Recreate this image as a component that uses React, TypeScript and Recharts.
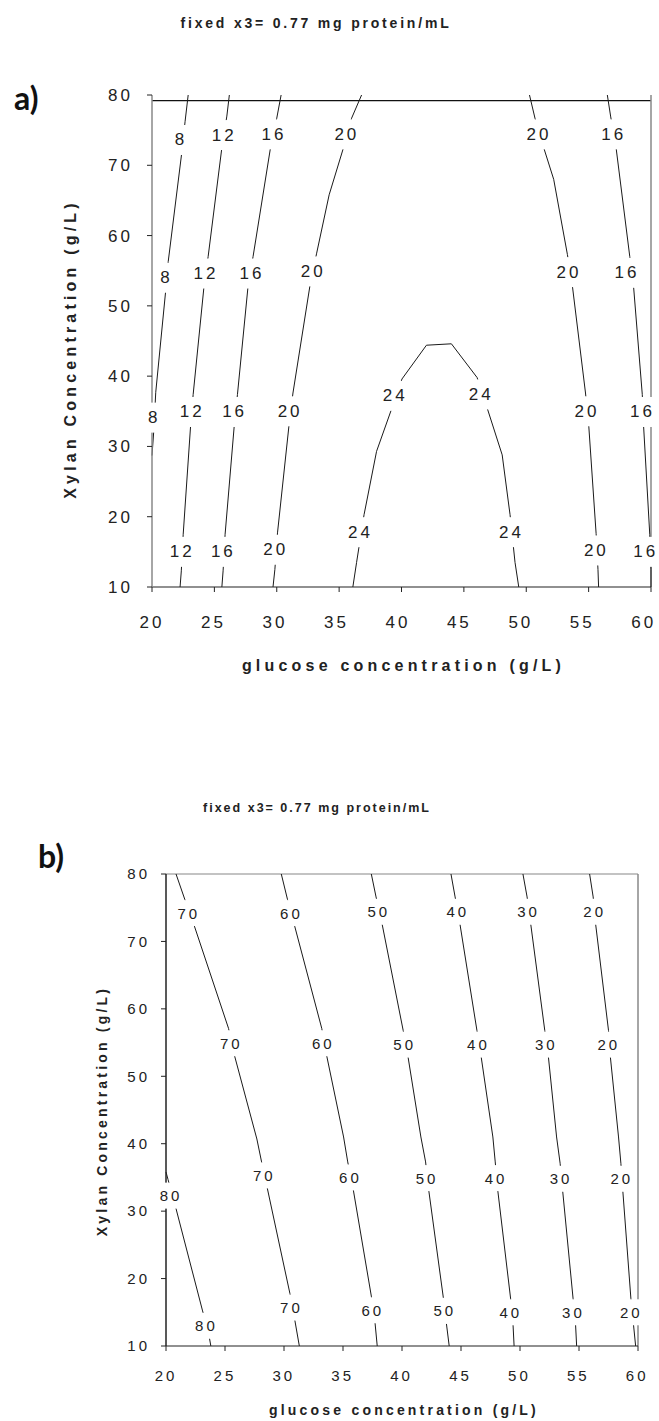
import React from 'react';
import { ComposedChart, Line, Scatter, XAxis, YAxis, ReferenceLine } from 'recharts';

type Pt = [number, number];

const xTicks = [20, 25, 30, 35, 40, 45, 50, 55, 60];
const yTicks = [10, 20, 30, 40, 50, 60, 70, 80];

// panel a) contour lines, [glucose g/L, xylan g/L]
const a8: Pt[] = [[22.9, 80], [22.65, 76.2], [22.4, 72], [21.3, 56.3], [21.1, 52.2], [20.3, 37.7], [20.15, 32.4], [20.0, 28.7]];
const a12: Pt[] = [[26.2, 80], [26.0, 77], [25.6, 72.5], [24.5, 57], [24.17, 52.8], [23.3, 37.4], [23.1, 33.1], [22.5, 17.5], [22.35, 12.3], [22.25, 10]];
const a16: Pt[] = [[30.35, 80], [30.0, 76.7], [29.5, 72.5], [28.1, 57], [27.7, 52.8], [26.85, 37.4], [26.6, 33.1], [25.86, 17.5], [25.7, 12.3], [25.6, 10]];
const a20L: Pt[] = [[36.8, 80], [36.0, 76.7], [35.35, 72.5], [34.2, 65.8], [33.2, 57.5], [32.7, 53.3], [31.3, 37.6], [31.0, 33.3], [30.06, 17.7], [29.85, 12.5], [29.7, 10]];
const a24: Pt[] = [[36.1, 10], [36.4, 13.5], [37.0, 20.3], [38.0, 29.3], [39.2, 35.3], [40.04, 39.6], [42.0, 44.4], [44.0, 44.6], [46.06, 39.8], [46.86, 35.5], [48.07, 28.8], [48.7, 20.3], [49.1, 13.5], [49.4, 10]];
const a20R: Pt[] = [[50.26, 80], [50.7, 76.7], [51.4, 72.5], [52.2, 68], [53.3, 57.3], [53.7, 52.8], [54.75, 37.6], [55.0, 33.2], [55.6, 17.6], [55.75, 12.5], [55.8, 10]];
const a16R: Pt[] = [[56.5, 80], [56.76, 77], [57.2, 72.5], [58.3, 57], [58.6, 52.8], [59.3, 37.4], [59.4, 33.1], [59.9, 17.5], [60, 12.5], [60, 10]];

const aLevels = ['8', '12', '16', '20', '24', '20', '16'];
const a8Lab: Pt[] = [[22.2, 73.6], [21.04, 54], [20.05, 34.1]];
const a12Lab: Pt[] = [[25.67, 74.3], [24.2, 54.6], [23.1, 34.9], [22.3, 15]];
const a16Lab: Pt[] = [[29.65, 74.4], [27.9, 54.6], [26.5, 34.9], [25.6, 15]];
const a20LLab: Pt[] = [[35.5, 74.4], [32.8, 54.9], [30.95, 35], [29.8, 15.3]];
const a24Lab: Pt[] = [[39.37, 37.2], [36.6, 17.8], [46.27, 37.4], [48.7, 17.8]];
const a20RLab: Pt[] = [[50.9, 74.4], [53.3, 54.8], [54.75, 35], [55.5, 15.2]];
const a16RLab: Pt[] = [[56.9, 74.4], [57.96, 54.7], [59.2, 34.9], [59.45, 15]];

// panel b)
const b80: Pt[] = [[20, 35.8], [20.17, 34.7], [20.8, 30.7], [23.1, 15.2], [23.6, 12], [23.8, 10]];
const b70: Pt[] = [[20.85, 80], [21.6, 76.2], [22.4, 72.3], [25.3, 57.1], [25.8, 53.1], [27.7, 40.7], [28.1, 37.3], [28.56, 33.6], [30.5, 17.8], [30.9, 14], [31.3, 10]];
const b60: Pt[] = [[29.77, 80], [30.3, 76.2], [30.9, 72.3], [33.2, 57.1], [33.6, 53.2], [35.05, 41], [35.4, 37.3], [35.85, 33.4], [37.4, 17.4], [37.7, 13.7], [37.9, 10]];
const b50: Pt[] = [[37.4, 80], [37.8, 76.6], [38.3, 72.7], [40.1, 56.8], [40.5, 53], [41.6, 41], [42.0, 37.3], [42.25, 33.3], [43.5, 17.2], [43.75, 13.5], [44.0, 10]];
const b40: Pt[] = [[44.15, 80], [44.5, 76.6], [44.9, 72.7], [46.35, 56.8], [46.7, 53], [47.7, 41], [47.9, 37.3], [48.1, 33.3], [49.2, 17.1], [49.4, 13.5], [49.5, 10]];
const b30: Pt[] = [[50.25, 80], [50.6, 76.6], [50.9, 72.7], [52.1, 56.8], [52.4, 53], [53.1, 41], [53.4, 37.1], [53.6, 33.3], [54.5, 17], [54.7, 13.5], [54.8, 10]];
const b20: Pt[] = [[55.9, 80], [56.2, 76.6], [56.4, 72.7], [57.5, 56.8], [57.65, 53], [58.35, 41], [58.55, 37.1], [58.7, 33.3], [59.4, 17], [59.6, 13.5], [59.8, 10]];

const bLevels = ['80', '70', '60', '50', '40', '30', '20'];
const b80Lab: Pt[] = [[20.3, 32.3], [23.3, 13]];
const b70Lab: Pt[] = [[21.8, 74.2], [25.4, 54.9], [28.2, 35.3], [30.5, 15.7]];
const b60Lab: Pt[] = [[30.5, 74.2], [33.2, 54.9], [35.5, 35], [37.4, 15.3]];
const b50Lab: Pt[] = [[37.9, 74.4], [40.1, 54.7], [42.0, 34.9], [43.5, 15.2]];
const b40Lab: Pt[] = [[44.6, 74.4], [46.35, 54.7], [47.85, 34.9], [49.1, 15]];
const b30Lab: Pt[] = [[50.6, 74.4], [52.1, 54.7], [53.35, 34.8], [54.4, 15]];
const b20Lab: Pt[] = [[56.2, 74.4], [57.4, 54.7], [58.5, 34.8], [59.3, 15]];

const title = 'fixed x3= 0.77 mg protein/mL';
const xTitle = 'glucose concentration (g/L)';
const yTitle = 'Xylan Concentration (g/L)';

const FONT = '"Liberation Sans", Arial, sans-serif';
const INK = '#222';

const toRows = (pts: Pt[]) => pts.map(([x, y]) => ({ x, y }));
const toLabels = (groups: Pt[][], levels: string[]) =>
  groups.flatMap((pts, i) => pts.map(([x, y]) => ({ x, y, text: levels[i] })));

interface PanelProps {
  lines: Pt[][];
  labels: { x: number; y: number; text: string }[];
  width: number;
  height: number;
  margin: { top: number; right: number; bottom: number; left: number };
  yAxisWidth: number;
  xAxisHeight: number;
  fontSize: number;
  xTickMargin: number;
  yTickMargin: number;
  xLabelDrift: number;
  boxH: number;
  titleSize: number;
  titleSpacing: number;
  xTitleDy: number;
  yTitleX: number;
  yTitleDy: number;
  leftAxisColor: string;
  topBorderY: number;
  topBorderColor: string;
}

function ContourPanel(p: PanelProps) {
  const ls = 3;
  const labelShape = (props: any) => {
    const { cx, cy, payload } = props;
    const w = payload.text.length * (p.fontSize * 0.62) + 6;
    return (
      <g>
        <rect x={cx - w / 2} y={cy - p.boxH / 2} width={w} height={p.boxH} fill="#fff" />
        <text
          x={cx + ls / 2}
          y={cy}
          textAnchor="middle"
          dominantBaseline="central"
          fontFamily={FONT}
          fontSize={p.fontSize}
          letterSpacing={ls}
          fill={INK}
        >
          {payload.text}
        </text>
      </g>
    );
  };

  // excel-style tick labels drift a little left of their ticks
  const xTick = (tp: any) => (
    <text
      x={tp.x - tp.index * p.xLabelDrift}
      y={tp.y}
      dy="0.71em"
      textAnchor="middle"
      fontFamily={FONT}
      fontSize={p.fontSize}
      letterSpacing={ls}
      fill={INK}
    >
      {tp.payload.value}
    </text>
  );

  const tick = { fontSize: p.fontSize, fill: INK, fontFamily: FONT, letterSpacing: ls };

  return (
    <ComposedChart width={p.width} height={p.height} margin={p.margin}>
      <XAxis
        type="number"
        dataKey="x"
        domain={[20, 60]}
        ticks={xTicks}
        interval={0}
        height={p.xAxisHeight}
        tickSize={5}
        tickMargin={p.xTickMargin}
        axisLine={{ stroke: '#222', strokeWidth: 1.2 }}
        tickLine={{ stroke: '#222' }}
        tick={xTick}
        label={(lp: any) => {
          const vb = lp.viewBox;
          return (
            <text
              x={vb.x + vb.width / 2 + 2}
              y={vb.y + p.xTitleDy}
              textAnchor="middle"
              fontFamily={FONT}
              fontWeight="bold"
              fontSize={p.titleSize}
              letterSpacing={p.titleSpacing}
              fill={INK}
            >
              {xTitle}
            </text>
          );
        }}
      />
      <YAxis
        type="number"
        dataKey="y"
        domain={[10, 80]}
        ticks={yTicks}
        interval={0}
        width={p.yAxisWidth}
        tickSize={5}
        tickMargin={p.yTickMargin}
        axisLine={{ stroke: p.leftAxisColor, strokeWidth: 1.5 }}
        tickLine={{ stroke: '#222' }}
        tick={tick}
        label={(lp: any) => {
          const vb = lp.viewBox;
          const cx = vb.x + p.yTitleX;
          const cy = vb.y + vb.height / 2 + p.yTitleDy;
          return (
            <text
              x={cx}
              y={cy}
              transform={`rotate(-90, ${cx}, ${cy})`}
              textAnchor="middle"
              dominantBaseline="central"
              fontFamily={FONT}
              fontWeight="bold"
              fontSize={p.titleSize}
              letterSpacing={p.titleSpacing}
              fill={INK}
            >
              {yTitle}
            </text>
          );
        }}
      />
      <ReferenceLine y={p.topBorderY} stroke={p.topBorderColor} strokeWidth={1.2} />
      <ReferenceLine x={60} stroke="#888" strokeWidth={1.5} />
      {p.lines.map((pts, i) => (
        <Line
          key={i}
          data={toRows(pts)}
          dataKey="y"
          type="linear"
          stroke="#1a1a1a"
          strokeWidth={1}
          dot={false}
          legendType="none"
          isAnimationActive={false}
        />
      ))}
      <Scatter data={p.labels} dataKey="y" shape={labelShape} isAnimationActive={false} />
    </ComposedChart>
  );
}

const textStyle = (size: number, spacing: number): React.CSSProperties => ({
  position: 'absolute',
  whiteSpace: 'nowrap',
  fontFamily: FONT,
  fontWeight: 'bold',
  fontSize: size,
  lineHeight: `${size}px`,
  letterSpacing: spacing,
  color: INK,
  transform: 'translateX(-50%)',
});

const letterStyle: React.CSSProperties = {
  position: 'absolute',
  fontFamily: 'Lato, "Open Sans", sans-serif',
  fontWeight: 'bold',
  fontSize: 32,
  lineHeight: '32px',
  color: '#111',
};

export default function App() {
  const aLines = [a8, a12, a16, a20L, a24, a20R, a16R];
  const aLabels = toLabels([a8Lab, a12Lab, a16Lab, a20LLab, a24Lab, a20RLab, a16RLab], aLevels);
  const bLines = [b80, b70, b60, b50, b40, b30, b20];
  const bLabels = toLabels([b80Lab, b70Lab, b60Lab, b50Lab, b40Lab, b30Lab, b20Lab], bLevels);

  return (
    <div style={{ position: 'absolute', left: 0, top: 0, width: 659, height: 1421, background: '#fff' }}>
      <div style={{ position: 'absolute', left: 0, top: 0 }}>
        <ContourPanel
          lines={aLines}
          labels={aLabels}
          width={659}
          height={700}
          margin={{ top: 95, right: 8, bottom: 53, left: 0 }}
          yAxisWidth={152}
          xAxisHeight={60}
          fontSize={17}
          xTickMargin={24}
          yTickMargin={14}
          xLabelDrift={0.9}
          boxH={30}
          titleSize={16}
          titleSpacing={4.2}
          xTitleDy={84}
          yTitleX={70}
          yTitleDy={8}
          leftAxisColor="#888"
          topBorderY={79.2}
          topBorderColor="#111"
        />
      </div>
      <div style={{ position: 'absolute', left: 0, top: 740 }}>
        <ContourPanel
          lines={bLines}
          labels={bLabels}
          width={659}
          height={681}
          margin={{ top: 134, right: 21, bottom: 35, left: 0 }}
          yAxisWidth={166}
          xAxisHeight={40}
          fontSize={15}
          xTickMargin={19}
          yTickMargin={11}
          xLabelDrift={0.1}
          boxH={26}
          titleSize={14}
          titleSpacing={3.2}
          xTitleDy={69}
          yTitleX={102}
          yTitleDy={1}
          leftAxisColor="#222"
          topBorderY={80}
          topBorderColor="#888"
        />
      </div>
      <div style={{ ...textStyle(14, 2.8), left: 316, top: 16 }}>{title}</div>
      <div style={{ ...textStyle(12.5, 2.0), left: 317, top: 802 }}>{title}</div>
      <div style={{ ...letterStyle, left: 14, top: 82 }}>a)</div>
      <div style={{ ...letterStyle, left: 38, top: 840 }}>b)</div>
    </div>
  );
}
